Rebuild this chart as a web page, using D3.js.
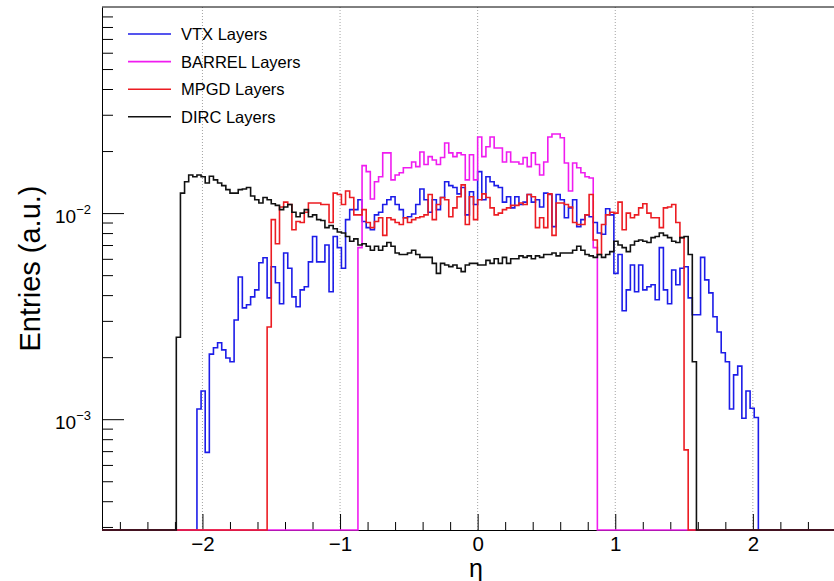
<!DOCTYPE html>
<html>
<head>
<meta charset="utf-8">
<script src="https://cdn.jsdelivr.net/npm/d3@7"></script>
<style>
body { margin: 0; background: #fff; }
text { font-family: "Liberation Sans", Arial, Helvetica, sans-serif; fill: #000; }
</style>
</head>
<body>
<svg id="svg0"></svg>
<script>
// eta histograms: 200 bins of 0.03 on [-3, 3], only the filled bins are listed
let binWidth = 0.03;
let histRange = [-3, 3];

let seriesNames = ['VTX Layers', 'BARREL Layers', 'MPGD Layers', 'DIRC Layers'];
let seriesColors = ['#1c1ce8', '#f01cf0', '#ec1c22', '#111111'];
let seriesStarts = [-2.04, -0.87, -1.53, -2.19];

let vtxValues = [0.00112, 0.00137, 0.00069, 0.00207, 0.00222, 0.00235, 0.00217, 0.00198, 0.00190, 0.00303,
    0.00490, 0.00347, 0.00359, 0.00392, 0.00424, 0.00574, 0.00607, 0.00388, 0.00549, 0.00459,
    0.00363, 0.0064, 0.0054, 0.00392, 0.00351, 0.00424, 0.00439, 0.0058, 0.0077, 0.0058,
    0.0058, 0.0070, 0.00415, 0.0077, 0.0068, 0.0054, 0.0093, 0.0104, 0.0104, 0.0116,
    0.0091, 0.0085, 0.0083, 0.0098, 0.0101, 0.0110, 0.0116, 0.0120, 0.0110, 0.0104,
    0.0095, 0.0096, 0.0099, 0.0110, 0.0131, 0.0116, 0.0101, 0.0116, 0.0104, 0.0119,
    0.0142, 0.0136, 0.0133, 0.0124, 0.0133, 0.0098, 0.0127, 0.0110, 0.0159, 0.0116,
    0.0150, 0.0142, 0.0136, 0.0133, 0.0113, 0.0120, 0.0106, 0.0120, 0.0110, 0.0113,
    0.0123, 0.0113, 0.0116, 0.0107, 0.0125, 0.0123, 0.0086, 0.0123, 0.0116, 0.0095,
    0.0106, 0.0116, 0.0086, 0.0093, 0.0098, 0.0096, 0.0090, 0.0080, 0.0079, 0.0105,
    0.0098, 0.0051, 0.0063, 0.00336, 0.00424, 0.0056, 0.00415, 0.0056, 0.00424, 0.00439,
    0.00449, 0.0038, 0.0068, 0.00424, 0.00363, 0.0053, 0.00449, 0.0054, 0.00549, 0.00388,
    0.00321, 0.00321, 0.0061, 0.00474, 0.0041, 0.00314, 0.00265, 0.0021, 0.0019, 0.00112,
    0.00164, 0.00181, 0.00101, 0.00137, 0.00113, 0.00102];

let barrelValues = [0.0068, 0.0170, 0.0159, 0.0117, 0.0142, 0.0150, 0.0196, 0.0196, 0.0145, 0.0153,
    0.0157, 0.0166, 0.0166, 0.0177, 0.0168, 0.0198, 0.0172, 0.0188, 0.0181, 0.0172,
    0.0186, 0.0219, 0.0196, 0.0188, 0.0196, 0.0192, 0.0145, 0.0192, 0.0145, 0.0234,
    0.0188, 0.0210, 0.0234, 0.0207, 0.0207, 0.0177, 0.0198, 0.0177, 0.0177, 0.0173,
    0.0186, 0.0168, 0.0196, 0.0172, 0.0153, 0.0177, 0.0234, 0.0242, 0.0242, 0.0232,
    0.0175, 0.0128, 0.0175, 0.0166, 0.0157, 0.0150, 0.0148, 0.0068];

let mpgdValues = [0.0028, 0.0093, 0.0071, 0.0107, 0.0113, 0.0110, 0.0083, 0.0091, 0.0090, 0.0101,
    0.0112, 0.0112, 0.0112, 0.0110, 0.0110, 0.0090, 0.0125, 0.0123, 0.0110, 0.0128,
    0.0119, 0.0098, 0.0098, 0.0104, 0.0090, 0.0085, 0.0091, 0.0095, 0.0078, 0.0095,
    0.0093, 0.0090, 0.0088, 0.0095, 0.0090, 0.0093, 0.0095, 0.0096, 0.0098, 0.0123,
    0.0093, 0.0110, 0.0119, 0.0116, 0.0096, 0.0106, 0.0120, 0.0137, 0.0088, 0.0120,
    0.0093, 0.0116, 0.0124, 0.0119, 0.0106, 0.0098, 0.0100, 0.0104, 0.0106, 0.0109,
    0.0109, 0.0112, 0.0110, 0.0123, 0.0120, 0.0085, 0.0095, 0.0085, 0.0124, 0.0078,
    0.0112, 0.0112, 0.0110, 0.0107, 0.0090, 0.0088, 0.0088, 0.0098, 0.0123, 0.0074,
    0.0063, 0.0088, 0.0098, 0.0101, 0.0100, 0.0113, 0.0083, 0.0100, 0.0095, 0.0098,
    0.0106, 0.0111, 0.0100, 0.0095, 0.0095, 0.0085, 0.0106, 0.0107, 0.0110, 0.0090,
    0.0076, 0.00071];

let dircValues = [0.0025, 0.0125, 0.0142, 0.0153, 0.0150, 0.0153, 0.0150, 0.0140, 0.0151, 0.0145,
    0.0140, 0.0136, 0.0130, 0.0125, 0.0125, 0.0130, 0.0131, 0.0133, 0.0121, 0.0116,
    0.0112, 0.0119, 0.0116, 0.0111, 0.0109, 0.0104, 0.0107, 0.0110, 0.0101, 0.0096,
    0.0100, 0.0104, 0.0096, 0.0098, 0.0093, 0.0092, 0.0085, 0.0087, 0.0084, 0.0081,
    0.0080, 0.0077, 0.0073, 0.0075, 0.0070, 0.0071, 0.0069, 0.0066, 0.0069, 0.0066,
    0.0069, 0.0072, 0.0069, 0.0064, 0.0063, 0.0063, 0.0064, 0.0066, 0.0063, 0.0061,
    0.0061, 0.0061, 0.0057, 0.0051, 0.0057, 0.0056, 0.0055, 0.0056, 0.0054, 0.0052,
    0.0056, 0.0057, 0.0057, 0.0056, 0.0056, 0.0059, 0.0057, 0.0060, 0.0057, 0.0061,
    0.0057, 0.0060, 0.0060, 0.0062, 0.0061, 0.0062, 0.0060, 0.0062, 0.0061, 0.0063,
    0.0063, 0.0064, 0.0062, 0.0064, 0.0064, 0.0064, 0.0066, 0.0069, 0.0066, 0.0063,
    0.0062, 0.0061, 0.0063, 0.0061, 0.0063, 0.0065, 0.0073, 0.0070, 0.0068, 0.0065,
    0.0070, 0.0073, 0.0074, 0.0073, 0.0072, 0.0076, 0.0077, 0.0080, 0.0078, 0.0076,
    0.0073, 0.0072, 0.0076, 0.0077, 0.0063, 0.0019];

let seriesValues = [vtxValues, barrelValues, mpgdValues, dircValues];

let xDomain = [-2.73, 2.73];
let yDomain = [2.9e-4, 0.1];
let xMajorTicks = [-2, -1, 0, 1, 2];
let yMajorTicks = [1e-3, 1e-2];
let yLabelPowers = ['−3', '−2'];

let width = 834;
let height = 581;
let margin = {top: 7, left: 102, bottom: 51};
let plotRight = 853.3;

let svg = d3.select('#svg0').attr('width', width).attr('height', height);

// scales
let xScale = d3.scaleLinear().domain(xDomain).range([margin.left, plotRight]);
let yScale = d3.scaleLog().domain(yDomain).range([height - margin.bottom, margin.top]);
let yBottom = yScale(yDomain[0]);

// dotted vertical grid
svg.append('g').selectAll('line').data(xMajorTicks).enter().append('line')
    .attr('x1', d=>xScale(d)).attr('x2', d=>xScale(d))
    .attr('y1', margin.top).attr('y2', yBottom)
    .style('stroke', '#8c8c8c').style('stroke-width', 0.8).style('stroke-dasharray', '1,2');

// axes, ROOT style ticks pointing inward
let xMinor = d3.range(-26, 27, 2).map(d=>d/10).filter(d=>!Number.isInteger(d));
let fmtX = d=>d < 0 ? '−' + Math.abs(d) : String(d);

svg.append('g').attr('transform', 'translate(0,' + yBottom + ')')
    .call(d3.axisBottom(xScale).tickValues(xMinor).tickSize(-8).tickSizeOuter(0).tickFormat(''))
    .call(g=>g.select('.domain').remove());
let xAxis = svg.append('g').attr('transform', 'translate(0,' + yBottom + ')')
    .call(d3.axisBottom(xScale).tickValues(xMajorTicks).tickSize(-16).tickSizeOuter(0).tickPadding(6).tickFormat(fmtX));
xAxis.selectAll('text').style('font-size', '20.5px').style('font-family', '"Liberation Sans", Arial, sans-serif');

let yMinor = [];
[-4, -3, -2].forEach(e=>{
    d3.range(2, 10).forEach(m=>{
        let v = m * Math.pow(10, e);
        if (v >= yDomain[0] && v <= yDomain[1]) yMinor.push(v);
    });
});
svg.append('g').attr('transform', 'translate(' + margin.left + ',0)')
    .call(d3.axisLeft(yScale).tickValues(yMinor).tickSize(-11).tickSizeOuter(0).tickFormat(''))
    .call(g=>g.select('.domain').remove());
svg.append('g').attr('transform', 'translate(' + margin.left + ',0)')
    .call(d3.axisLeft(yScale).tickValues(yMajorTicks).tickSize(-22).tickSizeOuter(0).tickFormat(''));

// top frame line
svg.append('line').attr('x1', margin.left).attr('x2', plotRight)
    .attr('y1', margin.top).attr('y2', margin.top)
    .style('stroke', '#000').style('stroke-width', 1);

// y labels as 10^n
yMajorTicks.forEach((v, i)=>{
    let t = svg.append('text').attr('x', 91).attr('y', yScale(v) + 10).style('text-anchor', 'end');
    t.append('tspan').text('10').style('font-size', '19px');
    t.append('tspan').attr('dy', -9).text(yLabelPowers[i]).style('font-size', '13px');
});

// histograms
svg.append('clipPath').attr('id', 'plotClip').append('rect')
    .attr('x', margin.left).attr('y', margin.top)
    .attr('width', plotRight - margin.left).attr('height', yBottom - margin.top + 1.5);

let nBins = Math.round((histRange[1] - histRange[0]) / binWidth);
let histLine = d3.line()
    .x(d=>xScale(d[0]))
    .y(d=>d[1] > yDomain[0] ? yScale(d[1]) : yBottom);

seriesValues.forEach((values, s)=>{
    let pts = [[histRange[0], 0]];
    for (let i = 0; i < nBins; i++) {
        let lo = histRange[0] + i * binWidth;
        let idx = Math.round((lo - seriesStarts[s]) / binWidth);
        let v = idx >= 0 && idx < values.length ? values[idx] : 0;
        pts.push([lo, v], [lo + binWidth, v]);
    }
    pts.push([histRange[1], 0]);
    svg.append('path').attr('clip-path', 'url(#plotClip)')
        .attr('d', histLine(pts))
        .style('fill', 'none').style('stroke', seriesColors[s]).style('stroke-width', 1.6);
});

// legend
seriesNames.forEach((name, i)=>{
    let ly = 34 + i * 27.6;
    svg.append('line').attr('x1', 128).attr('x2', 171).attr('y1', ly).attr('y2', ly)
        .style('stroke', seriesColors[i]).style('stroke-width', 1.6);
    svg.append('text').attr('x', 181).attr('y', ly + 6).text(name).style('font-size', '16.5px');
});

// axis titles
svg.append('text').attr('x', 476).attr('y', 577).text('η')
    .style('font-size', '25px').style('text-anchor', 'middle');
svg.append('text').attr('transform', 'translate(40,' + ((margin.top + yBottom) / 2) + ') rotate(-90)')
    .text('Entries (a.u.)').style('font-size', '29px').style('text-anchor', 'middle');
</script>
</body>
</html>
